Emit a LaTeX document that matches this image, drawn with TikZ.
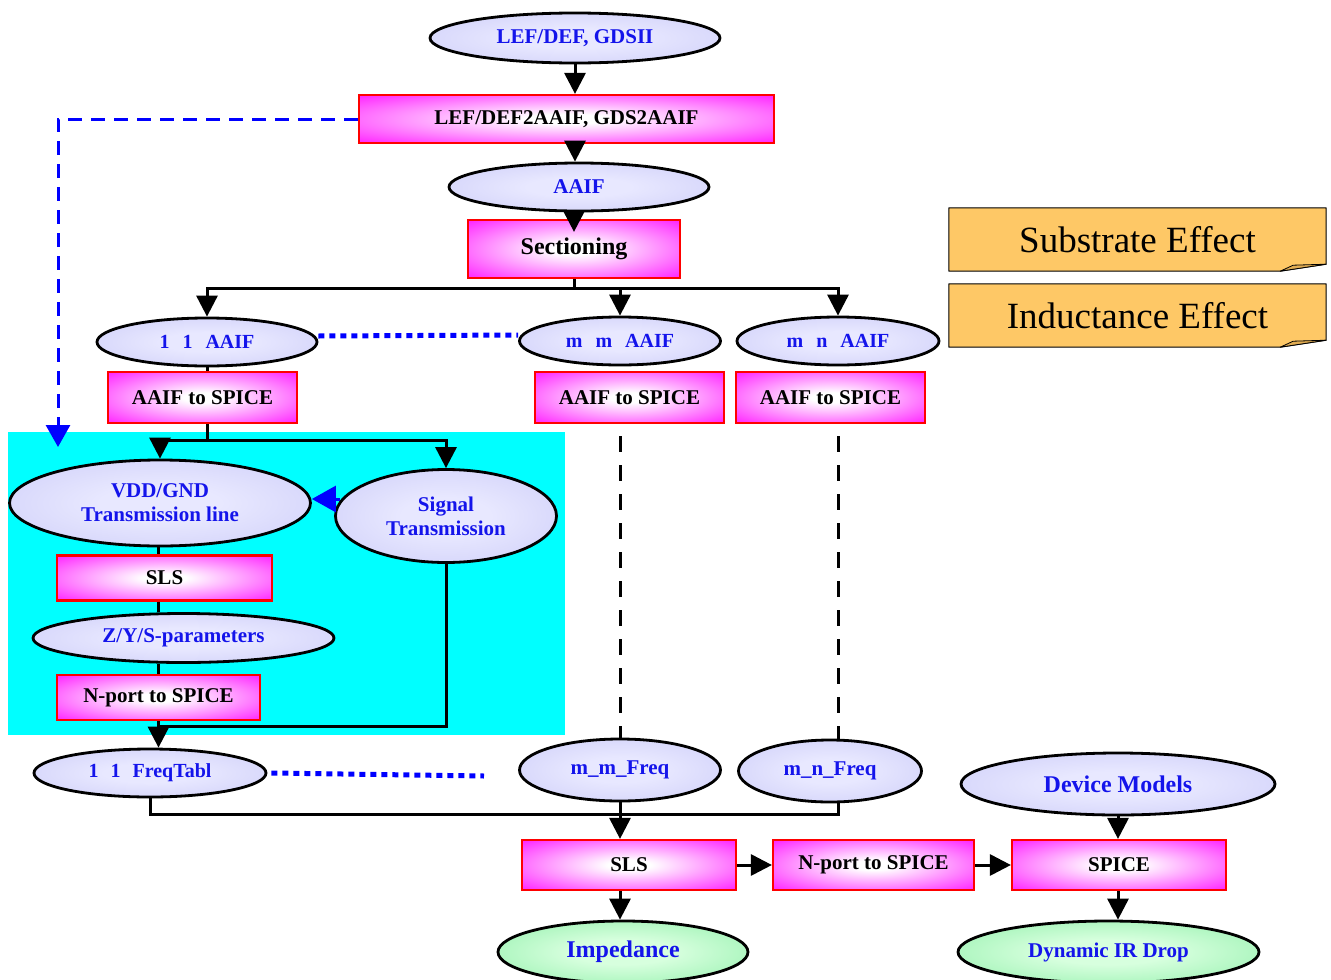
\documentclass[tikz,border=0pt]{standalone}
\usepackage{fontspec}
\setmainfont{Liberation Serif}
\usetikzlibrary{shapes.geometric,arrows.meta,backgrounds}
\definecolor{cyanbg}{RGB}{0,255,255}
\definecolor{lavin}{RGB}{232,232,255}
\definecolor{lavout}{RGB}{192,192,245}
\definecolor{mag}{RGB}{255,0,255}
\definecolor{txtblue}{RGB}{20,20,235}
\definecolor{greenin}{RGB}{215,255,222}
\definecolor{greenout}{RGB}{110,232,145}
\definecolor{notefill}{RGB}{254,200,102}
\definecolor{notefold}{RGB}{225,172,82}
\definecolor{lineblue}{RGB}{0,0,255}
\pgfdeclareradialshading{ellshade}{\pgfpoint{0bp}{0bp}}{color(0bp)=(lavin); color(10bp)=(lavin); color(50bp)=(lavout)}
\pgfdeclareradialshading{greenshade}{\pgfpoint{0bp}{0bp}}{color(0bp)=(greenin); color(10bp)=(greenin); color(50bp)=(greenout)}
\pgfdeclareradialshading{boxshade}{\pgfpoint{0bp}{0bp}}{color(0bp)=(white); color(5bp)=(white); color(40bp)=(mag); color(50bp)=(mag)}
\tikzset{
  ell/.style={ellipse, draw=black, line width=2.8pt, shading=ellshade, inner sep=0pt,
    text=txtblue, align=center, font=\bfseries\fontsize{21}{24}\selectfont},
  gell/.style={ell, shading=greenshade},
  pbox/.style={rectangle, draw=red, line width=2.2pt, shading=boxshade, inner sep=0pt,
    text=black, font=\bfseries\fontsize{21}{24}\selectfont},
  note/.style={rectangle, inner sep=0pt, minimum width=377pt, minimum height=63pt,
    font=\fontsize{37}{40}\selectfont},
  notebody/.style={fill=notefill, draw=black, line width=1pt, line join=round},
  notefoldst/.style={fill=notefold, draw=black, line width=0.8pt, line join=round},
  ln/.style={line width=3pt, draw=black},
  arr/.style={ln, -{Triangle[width=21pt,length=21pt]}},
  barr/.style={line width=3pt, draw=lineblue, -{Triangle[width=26pt,length=24pt]}},
  bdash/.style={line width=3pt, draw=lineblue, dash pattern=on 14pt off 9pt, -{Triangle[width=24pt,length=22pt]}},
  bdot/.style={line width=5pt, draw=lineblue, dash pattern=on 6pt off 5pt},
  kdash/.style={line width=3pt, draw=black, dash pattern=on 16pt off 13pt},
}
\begin{document}
\begin{tikzpicture}[x=1pt,y=-1pt]
\useasboundingbox (0,0) rectangle (1331,980);
\fill[cyanbg] (8,432) rectangle (565,735);

% top chain
\node[ell, minimum width=290pt, minimum height=50pt] (gds) at (575,38) {LEF/DEF, GDSII};
\node[pbox, minimum width=415pt, minimum height=48pt] (l2a) at (566.5,119) {LEF/DEF2AAIF, GDS2AAIF};
\node[ell, minimum width=260pt, minimum height=48pt] (aaif) at (579,187) {AAIF};
\node[pbox, minimum width=212pt, minimum height=58pt, font=\bfseries\fontsize{24}{26}\selectfont] (sec) at (574,249) {Sectioning};

% AAIF row
\node[ell, minimum width=220pt, minimum height=48pt, font=\bfseries\fontsize{20}{22}\selectfont] (a11) at (207,342) {1\hspace{0.65em}1\hspace{0.65em}AAIF};
\node[ell, minimum width=201pt, minimum height=48pt, font=\bfseries\fontsize{20}{22}\selectfont] (amm) at (620,341) {m\hspace{0.65em}m\hspace{0.65em}AAIF};
\node[ell, minimum width=202pt, minimum height=48pt, font=\bfseries\fontsize{20}{22}\selectfont] (amn) at (838,341) {m\hspace{0.65em}n\hspace{0.65em}AAIF};

\node[pbox, minimum width=189pt, minimum height=51pt] (s1) at (202.5,397.5) {AAIF to SPICE};
\node[pbox, minimum width=189pt, minimum height=51pt] (s2) at (629.5,397.5) {AAIF to SPICE};
\node[pbox, minimum width=189pt, minimum height=51pt] (s3) at (830.5,397.5) {AAIF to SPICE};

% cyan block
\node[ell, minimum width=301pt, minimum height=86pt] (vdd) at (160,503) {VDD/GND\\Transmission line};
\node[ell, minimum width=221pt, minimum height=93pt] (sig) at (446,516) {Signal\\Transmission};
\node[pbox, minimum width=215pt, minimum height=45pt] (sls1) at (164.5,578) {SLS};
\node[ell, minimum width=301pt, minimum height=49pt] (zys) at (183.5,638) {Z/Y/S-parameters};
\node[pbox, minimum width=203pt, minimum height=45pt] (np1) at (158.5,697.5) {N-port to SPICE};

% freq row
\node[ell, minimum width=232pt, minimum height=48pt, font=\bfseries\fontsize{20}{22}\selectfont] (ft) at (150,773) {1\hspace{0.6em}1\hspace{0.6em}FreqTabl};
\node[ell, minimum width=201pt, minimum height=62pt] (mmf) at (620,770) {m\_m\_Freq};
\node[ell, minimum width=183pt, minimum height=62pt] (mnf) at (830,771) {m\_n\_Freq};
\node[ell, minimum width=314pt, minimum height=62pt, font=\bfseries\fontsize{24}{26}\selectfont] (dev) at (1118,784) {Device Models};

% bottom row
\node[pbox, minimum width=214pt, minimum height=50pt] (sls2) at (629,865) {SLS};
\node[pbox, minimum width=201pt, minimum height=50pt] (np2) at (873.5,865) {N-port to SPICE};
\node[pbox, minimum width=214pt, minimum height=50pt] (spice) at (1119,865) {SPICE};
\node[gell, minimum width=250pt, minimum height=62pt, font=\bfseries\fontsize{24}{26}\selectfont] (imp) at (623,952) {Impedance};
\node[gell, minimum width=301pt, minimum height=62pt] (dyn) at (1108.5,952) {Dynamic IR Drop};

% notes
\node[note] (sub) at (1137.5,239.5) {Substrate Effect};
\node[note] (ind) at (1137.5,315.5) {Inductance Effect};
\begin{scope}[on background layer]
\foreach \n in {sub,ind}{
  \path[notebody] (\n.north west) -- (\n.north east) -- ([yshift=7pt]\n.south east)
     -- ([xshift=-46pt]\n.south east) -- (\n.south west) -- cycle;
  \path[notefoldst] ([xshift=-46pt]\n.south east) -- ([shift={(-33pt,6pt)}]\n.south east)
     -- ([yshift=7pt]\n.south east) -- cycle;
}
\end{scope}

% coordinates
\coordinate (bar) at (0,288);
\coordinate (split) at (207,440);
\coordinate (ret) at (158,726);
\coordinate (bus) at (0,814);
\coordinate (bl) at (58,447);
\coordinate (dotend) at (484,776);

% connectors top
\draw[arr] (gds.south) -- (gds.south |- l2a.north);
\draw[arr] (l2a.south -| gds.south) -- (gds.south |- aaif.north);
\draw[arr] (aaif.south -| sec.north) -- ([yshift=-13pt]sec.north);
\draw[ln] (sec.south) -- (sec.south |- bar);
\draw[ln, line cap=rect] (a11.north |- bar) -- (amn.north |- bar);
\draw[arr] (a11.north |- bar) -- (a11.north);
\draw[arr] (amm.north |- bar) -- (amm.north);
\draw[arr] (amn.north |- bar) -- (amn.north);
\draw[bdot] ([yshift=6pt]a11.east) -- ([yshift=6pt]amm.west);
\draw[bdash] (l2a.west) -| (bl);

% left column
\draw[ln] (a11.south) -- (a11.south |- s1.north);
\draw[ln] (a11.south |- s1.south) -- (split);
\draw[ln, line cap=rect] (vdd.north |- split) -- (sig.north |- split);
\draw[arr] (vdd.north |- split) -- (vdd.north);
\draw[arr] (sig.north |- split) -- (sig.north);
\draw[barr] ([shift={(6pt,17pt)}]sig.west) -- ([yshift=4pt]vdd.east);
\draw[ln] (vdd.south -| np1.south) -- (np1.south |- sls1.north);
\draw[ln] (np1.south |- sls1.south) -- (np1.south |- zys.north);
\draw[ln] (np1.south |- zys.south) -- (np1.north);
\draw[ln, line join=miter] (sig.south) |- (ret);
\draw[arr] (np1.south) -- (np1.south |- ft.north);
\draw[bdot] ([xshift=4pt]ft.east) -- (dotend);

% dashed
\draw[kdash] ([yshift=-12pt]s2.south -| mmf.north) -- (mmf.north);
\draw[kdash] ([yshift=-12pt]s3.south -| amn.south) -- (amn.south |- mnf.north);

% bus
\draw[ln, line join=miter] (ft.south) -- (ft.south |- bus) -- (amn.south |- bus) -- ([yshift=1pt]amn.south |- mnf.south);
\draw[arr] (mmf.south) -- (mmf.south |- sls2.north);
\draw[arr] (sls2.east) -- (np2.west);
\draw[arr] (np2.east) -- (spice.west);
\draw[arr] (dev.south) -- (dev.south |- spice.north);
\draw[arr] (mmf.south |- sls2.south) -- (mmf.south |- imp.north);
\draw[arr] (dev.south |- spice.south) -- (dev.south |- dyn.north);
\end{tikzpicture}
\end{document}
